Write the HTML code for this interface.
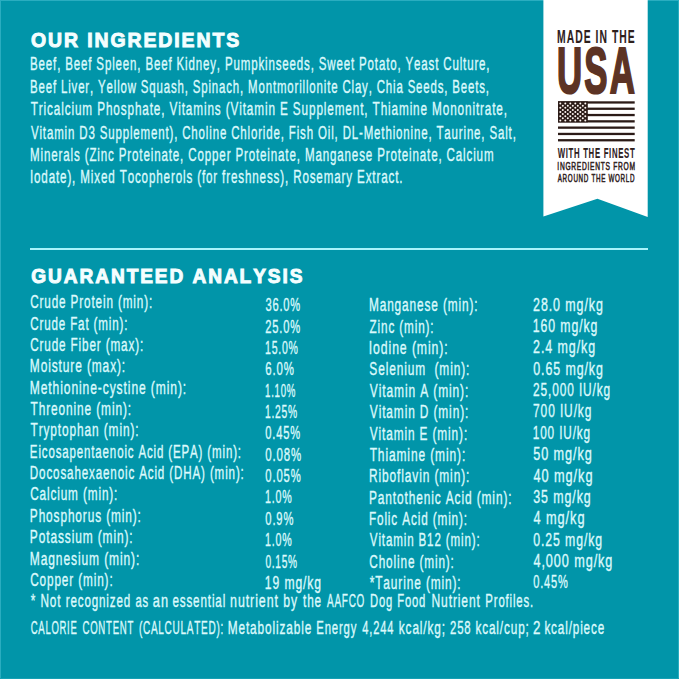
<!DOCTYPE html>
<html><head><meta charset="utf-8"><style>
html,body{margin:0;padding:0;background:#0195a9;}
body{width:679px;height:679px;overflow:hidden;}
svg{display:block;}
text{font-family:"Liberation Sans",sans-serif;font-kerning:none;white-space:pre;}
</style></head><body>
<svg width="679" height="679" viewBox="0 0 679 679">
<rect x="0" y="0" width="679" height="679" fill="#0195a9"/>
<rect x="0" y="0" width="679" height="1" fill="#2aadc0"/>
<rect x="678" y="0" width="1" height="679" fill="#2aadc0"/>
<rect x="0" y="0" width="1" height="679" fill="#2aadc0"/>
<rect x="0" y="678" width="679" height="1" fill="#16a0b4"/>
<polygon points="543.4,0 647.7,0 647.7,217 597.4,198.7 543.4,216.5" fill="#ffffff"/>
<rect x="30" y="248" width="618" height="2" fill="#a8f3fb"/>
<rect x="558" y="101.30" width="76.7" height="2.3" fill="#2b1b17"/>
<rect x="558" y="107.60" width="76.7" height="2.3" fill="#2b1b17"/>
<rect x="558" y="113.90" width="76.7" height="2.3" fill="#2b1b17"/>
<rect x="558" y="120.20" width="76.7" height="2.3" fill="#2b1b17"/>
<rect x="558" y="126.50" width="76.7" height="2.3" fill="#2b1b17"/>
<rect x="558" y="132.80" width="76.7" height="2.3" fill="#2b1b17"/>
<rect x="558" y="139.10" width="76.7" height="2.3" fill="#2b1b17"/>
<rect x="558" y="101.3" width="29.8" height="21.1" fill="#2b1b17"/>
<circle cx="560.30" cy="103.60" r="1.0" fill="#fff6f2"/>
<circle cx="565.30" cy="103.60" r="1.0" fill="#fff6f2"/>
<circle cx="570.30" cy="103.60" r="1.0" fill="#fff6f2"/>
<circle cx="575.30" cy="103.60" r="1.0" fill="#fff6f2"/>
<circle cx="580.30" cy="103.60" r="1.0" fill="#fff6f2"/>
<circle cx="585.30" cy="103.60" r="1.0" fill="#fff6f2"/>
<circle cx="562.80" cy="105.70" r="1.0" fill="#fff6f2"/>
<circle cx="567.80" cy="105.70" r="1.0" fill="#fff6f2"/>
<circle cx="572.80" cy="105.70" r="1.0" fill="#fff6f2"/>
<circle cx="577.80" cy="105.70" r="1.0" fill="#fff6f2"/>
<circle cx="582.80" cy="105.70" r="1.0" fill="#fff6f2"/>
<circle cx="560.30" cy="107.80" r="1.0" fill="#fff6f2"/>
<circle cx="565.30" cy="107.80" r="1.0" fill="#fff6f2"/>
<circle cx="570.30" cy="107.80" r="1.0" fill="#fff6f2"/>
<circle cx="575.30" cy="107.80" r="1.0" fill="#fff6f2"/>
<circle cx="580.30" cy="107.80" r="1.0" fill="#fff6f2"/>
<circle cx="585.30" cy="107.80" r="1.0" fill="#fff6f2"/>
<circle cx="562.80" cy="109.90" r="1.0" fill="#fff6f2"/>
<circle cx="567.80" cy="109.90" r="1.0" fill="#fff6f2"/>
<circle cx="572.80" cy="109.90" r="1.0" fill="#fff6f2"/>
<circle cx="577.80" cy="109.90" r="1.0" fill="#fff6f2"/>
<circle cx="582.80" cy="109.90" r="1.0" fill="#fff6f2"/>
<circle cx="560.30" cy="112.00" r="1.0" fill="#fff6f2"/>
<circle cx="565.30" cy="112.00" r="1.0" fill="#fff6f2"/>
<circle cx="570.30" cy="112.00" r="1.0" fill="#fff6f2"/>
<circle cx="575.30" cy="112.00" r="1.0" fill="#fff6f2"/>
<circle cx="580.30" cy="112.00" r="1.0" fill="#fff6f2"/>
<circle cx="585.30" cy="112.00" r="1.0" fill="#fff6f2"/>
<circle cx="562.80" cy="114.10" r="1.0" fill="#fff6f2"/>
<circle cx="567.80" cy="114.10" r="1.0" fill="#fff6f2"/>
<circle cx="572.80" cy="114.10" r="1.0" fill="#fff6f2"/>
<circle cx="577.80" cy="114.10" r="1.0" fill="#fff6f2"/>
<circle cx="582.80" cy="114.10" r="1.0" fill="#fff6f2"/>
<circle cx="560.30" cy="116.20" r="1.0" fill="#fff6f2"/>
<circle cx="565.30" cy="116.20" r="1.0" fill="#fff6f2"/>
<circle cx="570.30" cy="116.20" r="1.0" fill="#fff6f2"/>
<circle cx="575.30" cy="116.20" r="1.0" fill="#fff6f2"/>
<circle cx="580.30" cy="116.20" r="1.0" fill="#fff6f2"/>
<circle cx="585.30" cy="116.20" r="1.0" fill="#fff6f2"/>
<circle cx="562.80" cy="118.30" r="1.0" fill="#fff6f2"/>
<circle cx="567.80" cy="118.30" r="1.0" fill="#fff6f2"/>
<circle cx="572.80" cy="118.30" r="1.0" fill="#fff6f2"/>
<circle cx="577.80" cy="118.30" r="1.0" fill="#fff6f2"/>
<circle cx="582.80" cy="118.30" r="1.0" fill="#fff6f2"/>
<circle cx="560.30" cy="120.40" r="1.0" fill="#fff6f2"/>
<circle cx="565.30" cy="120.40" r="1.0" fill="#fff6f2"/>
<circle cx="570.30" cy="120.40" r="1.0" fill="#fff6f2"/>
<circle cx="575.30" cy="120.40" r="1.0" fill="#fff6f2"/>
<circle cx="580.30" cy="120.40" r="1.0" fill="#fff6f2"/>
<circle cx="585.30" cy="120.40" r="1.0" fill="#fff6f2"/>
<text x="30.90" y="46.50" font-size="20.20" textLength="210.18" lengthAdjust="spacingAndGlyphs" fill="#f4feff" font-weight="bold" letter-spacing="2.0" stroke="#f4feff" stroke-width="1.0">OUR INGREDIENTS</text>
<text x="30.06" y="70.40" font-size="19.04" textLength="460.33" lengthAdjust="spacingAndGlyphs" fill="#dbf9fc" letter-spacing="1.4" stroke="#dbf9fc" stroke-width="0.4">Beef, Beef Spleen, Beef Kidney, Pumpkinseeds, Sweet Potato, Yeast Culture,</text>
<text x="30.06" y="93.10" font-size="19.04" textLength="459.81" lengthAdjust="spacingAndGlyphs" fill="#dbf9fc" letter-spacing="1.4" stroke="#dbf9fc" stroke-width="0.4">Beef Liver, Yellow Squash, Spinach, Montmorillonite Clay, Chia Seeds, Beets,</text>
<text x="30.74" y="115.40" font-size="19.04" textLength="477.19" lengthAdjust="spacingAndGlyphs" fill="#dbf9fc" letter-spacing="1.4" stroke="#dbf9fc" stroke-width="0.4">Tricalcium Phosphate, Vitamins (Vitamin E Supplement, Thiamine Mononitrate,</text>
<text x="30.95" y="138.50" font-size="19.04" textLength="485.73" lengthAdjust="spacingAndGlyphs" fill="#dbf9fc" letter-spacing="1.4" stroke="#dbf9fc" stroke-width="0.4">Vitamin D3 Supplement), Choline Chloride, Fish Oil, DL-Methionine, Taurine, Salt,</text>
<text x="30.05" y="161.10" font-size="19.04" textLength="464.37" lengthAdjust="spacingAndGlyphs" fill="#dbf9fc" letter-spacing="1.4" stroke="#dbf9fc" stroke-width="0.4">Minerals (Zinc Proteinate, Copper Proteinate, Manganese Proteinate, Calcium</text>
<text x="29.93" y="182.80" font-size="19.04" textLength="373.39" lengthAdjust="spacingAndGlyphs" fill="#dbf9fc" letter-spacing="1.4" stroke="#dbf9fc" stroke-width="0.4">Iodate), Mixed Tocopherols (for freshness), Rosemary Extract.</text>
<text x="31.32" y="283.10" font-size="19.77" textLength="273.06" lengthAdjust="spacingAndGlyphs" fill="#f4feff" font-weight="bold" letter-spacing="2.0" stroke="#f4feff" stroke-width="1.0">GUARANTEED ANALYSIS</text>
<text x="30.20" y="308.30" font-size="19.04" textLength="122.93" lengthAdjust="spacingAndGlyphs" fill="#dbf9fc" letter-spacing="1.4" stroke="#dbf9fc" stroke-width="0.4">Crude Protein (min):</text>
<text x="265.38" y="311.30" font-size="19.04" textLength="35.64" lengthAdjust="spacingAndGlyphs" fill="#dbf9fc" letter-spacing="1.4" stroke="#dbf9fc" stroke-width="0.4">36.0%</text>
<text x="30.21" y="329.65" font-size="19.04" textLength="98.10" lengthAdjust="spacingAndGlyphs" fill="#dbf9fc" letter-spacing="1.4" stroke="#dbf9fc" stroke-width="0.4">Crude Fat (min):</text>
<text x="265.24" y="332.65" font-size="19.04" textLength="35.78" lengthAdjust="spacingAndGlyphs" fill="#dbf9fc" letter-spacing="1.4" stroke="#dbf9fc" stroke-width="0.4">25.0%</text>
<text x="30.20" y="351.00" font-size="19.04" textLength="113.93" lengthAdjust="spacingAndGlyphs" fill="#dbf9fc" letter-spacing="1.4" stroke="#dbf9fc" stroke-width="0.4">Crude Fiber (max):</text>
<text x="265.00" y="354.00" font-size="19.04" textLength="33.75" lengthAdjust="spacingAndGlyphs" fill="#dbf9fc" letter-spacing="1.4" stroke="#dbf9fc" stroke-width="0.4">15.0%</text>
<text x="29.82" y="372.35" font-size="19.04" textLength="96.25" lengthAdjust="spacingAndGlyphs" fill="#dbf9fc" letter-spacing="1.4" stroke="#dbf9fc" stroke-width="0.4">Moisture (max):</text>
<text x="265.22" y="375.35" font-size="19.04" textLength="29.43" lengthAdjust="spacingAndGlyphs" fill="#dbf9fc" letter-spacing="1.4" stroke="#dbf9fc" stroke-width="0.4">6.0%</text>
<text x="29.81" y="393.70" font-size="19.04" textLength="157.28" lengthAdjust="spacingAndGlyphs" fill="#dbf9fc" letter-spacing="1.4" stroke="#dbf9fc" stroke-width="0.4">Methionine-cystine (min):</text>
<text x="265.06" y="396.70" font-size="19.04" textLength="30.99" lengthAdjust="spacingAndGlyphs" fill="#dbf9fc" letter-spacing="1.4" stroke="#dbf9fc" stroke-width="0.4">1.10%</text>
<text x="30.53" y="415.05" font-size="19.04" textLength="101.43" lengthAdjust="spacingAndGlyphs" fill="#dbf9fc" letter-spacing="1.4" stroke="#dbf9fc" stroke-width="0.4">Threonine (min):</text>
<text x="265.02" y="418.05" font-size="19.04" textLength="32.90" lengthAdjust="spacingAndGlyphs" fill="#dbf9fc" letter-spacing="1.4" stroke="#dbf9fc" stroke-width="0.4">1.25%</text>
<text x="30.53" y="436.40" font-size="19.04" textLength="108.93" lengthAdjust="spacingAndGlyphs" fill="#dbf9fc" letter-spacing="1.4" stroke="#dbf9fc" stroke-width="0.4">Tryptophan (min):</text>
<text x="265.37" y="439.40" font-size="19.04" textLength="35.65" lengthAdjust="spacingAndGlyphs" fill="#dbf9fc" letter-spacing="1.4" stroke="#dbf9fc" stroke-width="0.4">0.45%</text>
<text x="29.85" y="457.75" font-size="19.04" textLength="212.05" lengthAdjust="spacingAndGlyphs" fill="#dbf9fc" letter-spacing="1.4" stroke="#dbf9fc" stroke-width="0.4">Eicosapentaenoic Acid (EPA) (min):</text>
<text x="265.35" y="460.75" font-size="19.04" textLength="36.70" lengthAdjust="spacingAndGlyphs" fill="#dbf9fc" letter-spacing="1.4" stroke="#dbf9fc" stroke-width="0.4">0.08%</text>
<text x="29.85" y="479.10" font-size="19.04" textLength="214.87" lengthAdjust="spacingAndGlyphs" fill="#dbf9fc" letter-spacing="1.4" stroke="#dbf9fc" stroke-width="0.4">Docosahexaenoic Acid (DHA) (min):</text>
<text x="265.36" y="482.10" font-size="19.04" textLength="36.17" lengthAdjust="spacingAndGlyphs" fill="#dbf9fc" letter-spacing="1.4" stroke="#dbf9fc" stroke-width="0.4">0.05%</text>
<text x="30.20" y="500.45" font-size="19.04" textLength="88.04" lengthAdjust="spacingAndGlyphs" fill="#dbf9fc" letter-spacing="1.4" stroke="#dbf9fc" stroke-width="0.4">Calcium (min):</text>
<text x="264.99" y="503.45" font-size="19.04" textLength="27.48" lengthAdjust="spacingAndGlyphs" fill="#dbf9fc" letter-spacing="1.4" stroke="#dbf9fc" stroke-width="0.4">1.0%</text>
<text x="29.83" y="521.80" font-size="19.04" textLength="111.93" lengthAdjust="spacingAndGlyphs" fill="#dbf9fc" letter-spacing="1.4" stroke="#dbf9fc" stroke-width="0.4">Phosphorus (min):</text>
<text x="265.36" y="524.80" font-size="19.04" textLength="28.86" lengthAdjust="spacingAndGlyphs" fill="#dbf9fc" letter-spacing="1.4" stroke="#dbf9fc" stroke-width="0.4">0.9%</text>
<text x="29.82" y="543.15" font-size="19.04" textLength="103.75" lengthAdjust="spacingAndGlyphs" fill="#dbf9fc" letter-spacing="1.4" stroke="#dbf9fc" stroke-width="0.4">Potassium (min):</text>
<text x="264.99" y="546.15" font-size="19.04" textLength="27.48" lengthAdjust="spacingAndGlyphs" fill="#dbf9fc" letter-spacing="1.4" stroke="#dbf9fc" stroke-width="0.4">1.0%</text>
<text x="29.81" y="564.50" font-size="19.04" textLength="110.37" lengthAdjust="spacingAndGlyphs" fill="#dbf9fc" letter-spacing="1.4" stroke="#dbf9fc" stroke-width="0.4">Magnesium (min):</text>
<text x="265.40" y="567.50" font-size="19.04" textLength="32.50" lengthAdjust="spacingAndGlyphs" fill="#dbf9fc" letter-spacing="1.4" stroke="#dbf9fc" stroke-width="0.4">0.15%</text>
<text x="30.20" y="585.85" font-size="19.04" textLength="83.34" lengthAdjust="spacingAndGlyphs" fill="#dbf9fc" letter-spacing="1.4" stroke="#dbf9fc" stroke-width="0.4">Copper (min):</text>
<text x="264.87" y="588.85" font-size="19.04" textLength="57.10" lengthAdjust="spacingAndGlyphs" fill="#dbf9fc" letter-spacing="1.4" stroke="#dbf9fc" stroke-width="0.4">19 mg/kg</text>
<text x="368.93" y="311.40" font-size="19.04" textLength="109.53" lengthAdjust="spacingAndGlyphs" fill="#dbf9fc" letter-spacing="1.4" stroke="#dbf9fc" stroke-width="0.4">Manganese (min):</text>
<text x="533.07" y="310.70" font-size="19.04" textLength="70.74" lengthAdjust="spacingAndGlyphs" fill="#dbf9fc" letter-spacing="1.4" stroke="#dbf9fc" stroke-width="0.4">28.0 mg/kg</text>
<text x="369.53" y="332.75" font-size="19.04" textLength="64.91" lengthAdjust="spacingAndGlyphs" fill="#dbf9fc" letter-spacing="1.4" stroke="#dbf9fc" stroke-width="0.4">Zinc (min):</text>
<text x="532.76" y="332.05" font-size="19.04" textLength="65.53" lengthAdjust="spacingAndGlyphs" fill="#dbf9fc" letter-spacing="1.4" stroke="#dbf9fc" stroke-width="0.4">160 mg/kg</text>
<text x="368.77" y="354.10" font-size="19.04" textLength="79.85" lengthAdjust="spacingAndGlyphs" fill="#dbf9fc" letter-spacing="1.4" stroke="#dbf9fc" stroke-width="0.4">Iodine (min):</text>
<text x="533.07" y="353.40" font-size="19.04" textLength="63.05" lengthAdjust="spacingAndGlyphs" fill="#dbf9fc" letter-spacing="1.4" stroke="#dbf9fc" stroke-width="0.4">2.4 mg/kg</text>
<text x="369.36" y="375.45" font-size="19.04" textLength="100.91" lengthAdjust="spacingAndGlyphs" fill="#dbf9fc" letter-spacing="1.4" stroke="#dbf9fc" stroke-width="0.4">Selenium  (min):</text>
<text x="533.21" y="374.75" font-size="19.04" textLength="70.60" lengthAdjust="spacingAndGlyphs" fill="#dbf9fc" letter-spacing="1.4" stroke="#dbf9fc" stroke-width="0.4">0.65 mg/kg</text>
<text x="369.85" y="396.80" font-size="19.04" textLength="99.33" lengthAdjust="spacingAndGlyphs" fill="#dbf9fc" letter-spacing="1.4" stroke="#dbf9fc" stroke-width="0.4">Vitamin A (min):</text>
<text x="533.10" y="396.10" font-size="19.04" textLength="77.94" lengthAdjust="spacingAndGlyphs" fill="#dbf9fc" letter-spacing="1.4" stroke="#dbf9fc" stroke-width="0.4">25,000 IU/kg</text>
<text x="369.85" y="418.15" font-size="19.04" textLength="99.31" lengthAdjust="spacingAndGlyphs" fill="#dbf9fc" letter-spacing="1.4" stroke="#dbf9fc" stroke-width="0.4">Vitamin D (min):</text>
<text x="533.09" y="417.45" font-size="19.04" textLength="59.17" lengthAdjust="spacingAndGlyphs" fill="#dbf9fc" letter-spacing="1.4" stroke="#dbf9fc" stroke-width="0.4">700 IU/kg</text>
<text x="369.85" y="439.50" font-size="19.04" textLength="98.21" lengthAdjust="spacingAndGlyphs" fill="#dbf9fc" letter-spacing="1.4" stroke="#dbf9fc" stroke-width="0.4">Vitamin E (min):</text>
<text x="532.80" y="438.80" font-size="19.04" textLength="58.12" lengthAdjust="spacingAndGlyphs" fill="#dbf9fc" letter-spacing="1.4" stroke="#dbf9fc" stroke-width="0.4">100 IU/kg</text>
<text x="369.63" y="460.85" font-size="19.04" textLength="96.55" lengthAdjust="spacingAndGlyphs" fill="#dbf9fc" letter-spacing="1.4" stroke="#dbf9fc" stroke-width="0.4">Thiamine (min):</text>
<text x="533.19" y="460.15" font-size="19.04" textLength="59.55" lengthAdjust="spacingAndGlyphs" fill="#dbf9fc" letter-spacing="1.4" stroke="#dbf9fc" stroke-width="0.4">50 mg/kg</text>
<text x="368.92" y="482.20" font-size="19.04" textLength="101.35" lengthAdjust="spacingAndGlyphs" fill="#dbf9fc" letter-spacing="1.4" stroke="#dbf9fc" stroke-width="0.4">Riboflavin (min):</text>
<text x="533.41" y="481.50" font-size="19.04" textLength="60.06" lengthAdjust="spacingAndGlyphs" fill="#dbf9fc" letter-spacing="1.4" stroke="#dbf9fc" stroke-width="0.4">40 mg/kg</text>
<text x="368.92" y="503.55" font-size="19.04" textLength="143.55" lengthAdjust="spacingAndGlyphs" fill="#dbf9fc" letter-spacing="1.4" stroke="#dbf9fc" stroke-width="0.4">Pantothenic Acid (min):</text>
<text x="533.23" y="502.85" font-size="19.04" textLength="58.39" lengthAdjust="spacingAndGlyphs" fill="#dbf9fc" letter-spacing="1.4" stroke="#dbf9fc" stroke-width="0.4">35 mg/kg</text>
<text x="368.94" y="524.90" font-size="19.04" textLength="99.00" lengthAdjust="spacingAndGlyphs" fill="#dbf9fc" letter-spacing="1.4" stroke="#dbf9fc" stroke-width="0.4">Folic Acid (min):</text>
<text x="533.41" y="524.20" font-size="19.04" textLength="52.06" lengthAdjust="spacingAndGlyphs" fill="#dbf9fc" letter-spacing="1.4" stroke="#dbf9fc" stroke-width="0.4">4 mg/kg</text>
<text x="369.85" y="546.25" font-size="19.04" textLength="110.66" lengthAdjust="spacingAndGlyphs" fill="#dbf9fc" letter-spacing="1.4" stroke="#dbf9fc" stroke-width="0.4">Vitamin B12 (min):</text>
<text x="533.22" y="545.55" font-size="19.04" textLength="69.77" lengthAdjust="spacingAndGlyphs" fill="#dbf9fc" letter-spacing="1.4" stroke="#dbf9fc" stroke-width="0.4">0.25 mg/kg</text>
<text x="369.30" y="567.60" font-size="19.04" textLength="85.44" lengthAdjust="spacingAndGlyphs" fill="#dbf9fc" letter-spacing="1.4" stroke="#dbf9fc" stroke-width="0.4">Choline (min):</text>
<text x="533.41" y="566.90" font-size="19.04" textLength="79.94" lengthAdjust="spacingAndGlyphs" fill="#dbf9fc" letter-spacing="1.4" stroke="#dbf9fc" stroke-width="0.4">4,000 mg/kg</text>
<text x="369.71" y="588.95" font-size="19.04" textLength="91.85" lengthAdjust="spacingAndGlyphs" fill="#dbf9fc" letter-spacing="1.4" stroke="#dbf9fc" stroke-width="0.4">*Taurine (min):</text>
<text x="533.27" y="588.25" font-size="19.04" textLength="35.44" lengthAdjust="spacingAndGlyphs" fill="#dbf9fc" letter-spacing="1.4" stroke="#dbf9fc" stroke-width="0.4">0.45%</text>
<text x="30.81" y="607.30" font-size="19.04" textLength="30.54" lengthAdjust="spacingAndGlyphs" fill="#dbf9fc" letter-spacing="1.4" stroke="#dbf9fc" stroke-width="0.4">* Not</text>
<text x="65.73" y="607.30" font-size="19.04" textLength="65.37" lengthAdjust="spacingAndGlyphs" fill="#dbf9fc" letter-spacing="1.4" stroke="#dbf9fc" stroke-width="0.4">recognized</text>
<text x="135.52" y="607.30" font-size="19.04" textLength="13.51" lengthAdjust="spacingAndGlyphs" fill="#dbf9fc" letter-spacing="1.4" stroke="#dbf9fc" stroke-width="0.4">as</text>
<text x="152.86" y="607.30" font-size="19.04" textLength="16.12" lengthAdjust="spacingAndGlyphs" fill="#dbf9fc" letter-spacing="1.4" stroke="#dbf9fc" stroke-width="0.4">an</text>
<text x="172.40" y="607.30" font-size="19.04" textLength="53.73" lengthAdjust="spacingAndGlyphs" fill="#dbf9fc" letter-spacing="1.4" stroke="#dbf9fc" stroke-width="0.4">essential</text>
<text x="230.07" y="607.30" font-size="19.04" textLength="48.83" lengthAdjust="spacingAndGlyphs" fill="#dbf9fc" letter-spacing="1.4" stroke="#dbf9fc" stroke-width="0.4">nutrient</text>
<text x="283.31" y="607.30" font-size="19.04" textLength="14.71" lengthAdjust="spacingAndGlyphs" fill="#dbf9fc" letter-spacing="1.4" stroke="#dbf9fc" stroke-width="0.4">by</text>
<text x="303.02" y="607.30" font-size="19.04" textLength="18.97" lengthAdjust="spacingAndGlyphs" fill="#dbf9fc" letter-spacing="1.4" stroke="#dbf9fc" stroke-width="0.4">the</text>
<text x="327.08" y="607.30" font-size="19.04" textLength="38.03" lengthAdjust="spacingAndGlyphs" fill="#dbf9fc" letter-spacing="1.4" stroke="#dbf9fc" stroke-width="0.4">AAFCO</text>
<text x="370.08" y="607.30" font-size="19.04" textLength="23.07" lengthAdjust="spacingAndGlyphs" fill="#dbf9fc" letter-spacing="1.4" stroke="#dbf9fc" stroke-width="0.4">Dog</text>
<text x="397.18" y="607.30" font-size="19.04" textLength="28.98" lengthAdjust="spacingAndGlyphs" fill="#dbf9fc" letter-spacing="1.4" stroke="#dbf9fc" stroke-width="0.4">Food</text>
<text x="431.51" y="607.30" font-size="19.04" textLength="49.26" lengthAdjust="spacingAndGlyphs" fill="#dbf9fc" letter-spacing="1.4" stroke="#dbf9fc" stroke-width="0.4">Nutrient</text>
<text x="485.37" y="607.30" font-size="19.04" textLength="48.61" lengthAdjust="spacingAndGlyphs" fill="#dbf9fc" letter-spacing="1.4" stroke="#dbf9fc" stroke-width="0.4">Profiles.</text>
<text x="30.72" y="634.10" font-size="19.04" textLength="46.80" lengthAdjust="spacingAndGlyphs" fill="#dbf9fc" letter-spacing="1.4" stroke="#dbf9fc" stroke-width="0.4">CALORIE</text>
<text x="82.51" y="634.10" font-size="19.04" textLength="51.52" lengthAdjust="spacingAndGlyphs" fill="#dbf9fc" letter-spacing="1.4" stroke="#dbf9fc" stroke-width="0.4">CONTENT</text>
<text x="138.88" y="634.10" font-size="19.04" textLength="85.17" lengthAdjust="spacingAndGlyphs" fill="#dbf9fc" letter-spacing="1.4" stroke="#dbf9fc" stroke-width="0.4">(CALCULATED):</text>
<text x="227.73" y="634.10" font-size="19.04" textLength="84.47" lengthAdjust="spacingAndGlyphs" fill="#dbf9fc" letter-spacing="1.4" stroke="#dbf9fc" stroke-width="0.4">Metabolizable</text>
<text x="316.27" y="634.10" font-size="19.04" textLength="40.99" lengthAdjust="spacingAndGlyphs" fill="#dbf9fc" letter-spacing="1.4" stroke="#dbf9fc" stroke-width="0.4">Energy</text>
<text x="362.34" y="634.10" font-size="19.04" textLength="31.90" lengthAdjust="spacingAndGlyphs" fill="#dbf9fc" letter-spacing="1.4" stroke="#dbf9fc" stroke-width="0.4">4,244</text>
<text x="398.80" y="634.10" font-size="19.04" textLength="47.13" lengthAdjust="spacingAndGlyphs" fill="#dbf9fc" letter-spacing="1.4" stroke="#dbf9fc" stroke-width="0.4">kcal/kg;</text>
<text x="450.03" y="634.10" font-size="19.04" textLength="21.50" lengthAdjust="spacingAndGlyphs" fill="#dbf9fc" letter-spacing="1.4" stroke="#dbf9fc" stroke-width="0.4">258</text>
<text x="475.41" y="634.10" font-size="19.04" textLength="54.32" lengthAdjust="spacingAndGlyphs" fill="#dbf9fc" letter-spacing="1.4" stroke="#dbf9fc" stroke-width="0.4">kcal/cup;</text>
<text x="532.93" y="634.10" font-size="19.04" textLength="8.43" lengthAdjust="spacingAndGlyphs" fill="#dbf9fc" letter-spacing="1.4" stroke="#dbf9fc" stroke-width="0.4">2</text>
<text x="544.41" y="634.10" font-size="19.04" textLength="60.67" lengthAdjust="spacingAndGlyphs" fill="#dbf9fc" letter-spacing="1.4" stroke="#dbf9fc" stroke-width="0.4">kcal/piece</text>
<text x="557.06" y="42.95" font-size="18.02" textLength="78.63" lengthAdjust="spacingAndGlyphs" fill="#2e201c" font-weight="bold" letter-spacing="1.8" stroke="#2e201c" stroke-width="0.1">MADE IN THE</text>
<text x="557.01" y="93.10" font-size="64.39" textLength="80.08" lengthAdjust="spacingAndGlyphs" fill="#5c3324" font-weight="bold" letter-spacing="4.0" stroke="#5c3324" stroke-width="2.2">USA</text>
<text x="557.74" y="157.55" font-size="13.81" textLength="77.67" lengthAdjust="spacingAndGlyphs" fill="#2e201c" font-weight="bold" letter-spacing="1.2" stroke="#2e201c" stroke-width="0.1">WITH THE FINEST</text>
<text x="557.36" y="169.72" font-size="11.26" textLength="78.32" lengthAdjust="spacingAndGlyphs" fill="#2e201c" letter-spacing="1.2" stroke="#2e201c" stroke-width="0.55">INGREDIENTS FROM</text>
<text x="557.76" y="181.62" font-size="10.97" textLength="77.45" lengthAdjust="spacingAndGlyphs" fill="#2e201c" letter-spacing="1.2" stroke="#2e201c" stroke-width="0.55">AROUND THE WORLD</text>
</svg>
</body></html>
